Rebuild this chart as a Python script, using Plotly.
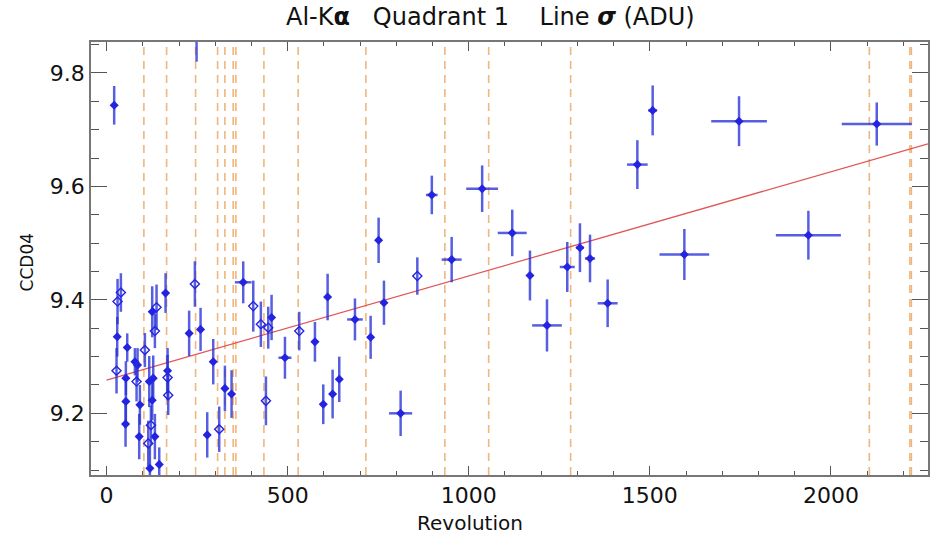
import plotly.graph_objects as go

# ---- data ----
# filled-diamond measurements: revolution, sigma, y-error, x-error
filled_rev = [21, 29.4, 57, 53.3, 53.3, 52.4, 78.2, 85.5, 90.1, 92, 117.8, 126, 128.8, 126,
              133.4, 119.6, 145.4, 162.9, 168.4, 228, 259.5, 294.5, 277.9, 326.7, 345.1,
              377.3, 455.6, 492.5, 575.3, 610.3, 598.3, 624.1, 642.5, 685.8, 729.1, 751.1,
              765.9, 811.9, 898, 952.8, 1037, 1120, 1169, 1216, 1272, 1307, 1334.8, 1383.5,
              1465.5, 1507.8, 1595.3, 1746.3, 1937.7, 2126.5, 248.5]
filled_sig = [9.743, 9.335, 9.316, 9.262, 9.221, 9.181, 9.291, 9.285, 9.159, 9.215, 9.256, 9.379,
              9.262, 9.223, 9.159, 9.103, 9.110, 9.412, 9.275, 9.341, 9.348, 9.291, 9.162, 9.244,
              9.234, 9.431, 9.369, 9.298, 9.326, 9.405, 9.216, 9.234, 9.260, 9.3655, 9.334, 9.505,
              9.395, 9.200, 9.585, 9.471, 9.596, 9.518, 9.443, 9.355, 9.458, 9.492, 9.473, 9.394,
              9.6385, 9.734, 9.480, 9.715, 9.514, 9.710, 9.87]
filled_yerr = [0.034, 0.035, 0.025, 0.03, 0.035, 0.04, 0.024, 0.03, 0.04, 0.035, 0.045, 0.045,
               0.04, 0.035, 0.04, 0.04, 0.03, 0.035, 0.04, 0.04, 0.038, 0.04, 0.04, 0.04, 0.042,
               0.037, 0.04, 0.037, 0.035, 0.041, 0.035, 0.043, 0.04, 0.037, 0.038, 0.04, 0.039,
               0.04, 0.034, 0.04, 0.041, 0.041, 0.044, 0.046, 0.044, 0.043, 0.042, 0.042, 0.043,
               0.044, 0.045, 0.044, 0.043, 0.038, 0.05]
filled_xerr = [0, 0, 0, 0, 0, 0, 0, 0, 0, 0, 0, 0, 0, 0, 0, 0, 0, 0, 0, 0, 0, 0, 0, 0, 0,
               23, 0, 18, 0, 0, 0, 0, 0, 21.6, 0, 0, 0, 32, 16, 27.6, 44, 40, 4, 41, 20.7, 11,
               14, 27.6, 28.5, 12.4, 68.6, 76.9, 89.8, 96.7, 0]

# open-diamond measurements
open_rev = [30.3, 27.5, 39.5, 82.8, 105.8, 133.4, 138, 122.4, 115, 168.4, 170.2, 243.8, 311,
            405, 426, 446.4, 440, 532, 858]
open_sig = [9.397, 9.275, 9.413, 9.256, 9.3115, 9.345, 9.387, 9.179, 9.147, 9.263, 9.232, 9.428,
            9.172, 9.389, 9.357, 9.351, 9.222, 9.345, 9.442]
open_yerr = [0.04, 0.04, 0.034, 0.035, 0.03, 0.03, 0.04, 0.035, 0.04, 0.04, 0.035, 0.04, 0.04,
             0.045, 0.04, 0.037, 0.043, 0.034, 0.033]

# revolutions marked by dashed vertical lines
event_revs = [103, 165.7, 245.8, 306.5, 326.7, 349.6, 357, 434.4, 529, 716, 934, 1055, 1281.3,
              2106, 2218, 2222]

# linear fit end points
fit_rev = [0, 2268]
fit_sig = [9.2587, 9.675]

x_ticks = [0, 500, 1000, 1500, 2000]
y_ticks = [9.2, 9.4, 9.6, 9.8]

FONT = "DejaVu Sans, Verdana, sans-serif"
BLUE = "#2424e0"
ERR = "rgba(40,50,215,0.78)"

fig = go.Figure()

fig.add_trace(go.Scatter(
    x=fit_rev, y=fit_sig, mode="lines",
    line=dict(color="rgb(225,85,85)", width=1.3), hoverinfo="skip", showlegend=False))

fig.add_trace(go.Scatter(
    x=filled_rev, y=filled_sig, mode="markers",
    marker=dict(symbol="diamond", size=7, color=BLUE, line=dict(width=0)),
    error_y=dict(type="data", array=filled_yerr, visible=True, color=ERR, thickness=2.5, width=0),
    error_x=dict(type="data", array=filled_xerr, visible=True, color=ERR, thickness=2.5, width=0),
    showlegend=False))

fig.add_trace(go.Scatter(
    x=open_rev, y=open_sig, mode="markers",
    marker=dict(symbol="diamond-open", size=7, color=BLUE, line=dict(width=1.4, color=BLUE)),
    error_y=dict(type="data", array=open_yerr, visible=True, color=ERR, thickness=2.5, width=0),
    showlegend=False))

for r in event_revs:
    fig.add_shape(type="line", xref="x", yref="paper", x0=r, x1=r, y0=0, y1=1,
                  line=dict(color="rgb(240,182,125)", width=1.6, dash="8px,6px"), layer="below")

axis_common = dict(
    showgrid=False, zeroline=False, showline=True, linecolor="#777", linewidth=1.5,
    mirror="ticks", ticks="inside", tickcolor="#555", tickwidth=1.2, automargin=False,
    tickfont=dict(family=FONT, size=22, color="#111"),
)

fig.update_xaxes(range=[-43, 2268], tickvals=x_ticks, ticklen=9,
                 minor=dict(dtick=100, tick0=0, ticks="inside", ticklen=4.5,
                            tickcolor="#555", tickwidth=1.2),
                 ticklabelstandoff=0, **axis_common)
fig.update_yaxes(range=[9.0913, 9.8546], tickvals=y_ticks, ticklen=16,
                 ticktext=[f"{v:.1f}" for v in y_ticks],
                 minor=dict(dtick=0.05, tick0=9.0, ticks="inside", ticklen=8,
                            tickcolor="#555", tickwidth=1.2),
                 ticklabelstandoff=0, **axis_common)

fig.add_annotation(text="Al-K<b>α</b>\u00a0\u00a0\u00a0Quadrant 1\u00a0\u00a0\u00a0\u00a0Line <b><i>σ</i></b> (ADU)",
                   xref="paper", yref="paper", x=0.477, y=1.057, xanchor="center", yanchor="middle",
                   showarrow=False, font=dict(family=FONT, size=24, color="#111"))
fig.add_annotation(text="Revolution", xref="paper", yref="paper", x=0.453, y=-0.111,
                   xanchor="center", yanchor="middle", showarrow=False,
                   font=dict(family=FONT, size=20, color="#111"))
fig.add_annotation(text="CCD04", xref="paper", yref="paper", x=-0.077, y=0.49,
                   xanchor="center", yanchor="middle", textangle=-90, showarrow=False,
                   font=dict(family=FONT, size=17, color="#111"))

fig.update_layout(width=932, height=538, margin=dict(l=91, r=4, t=42, b=63),
                  paper_bgcolor="white", plot_bgcolor="white", showlegend=False)

fig.write_html("out.html", config={"displayModeBar": False},
               post_script="document.body.style.margin='0';")
